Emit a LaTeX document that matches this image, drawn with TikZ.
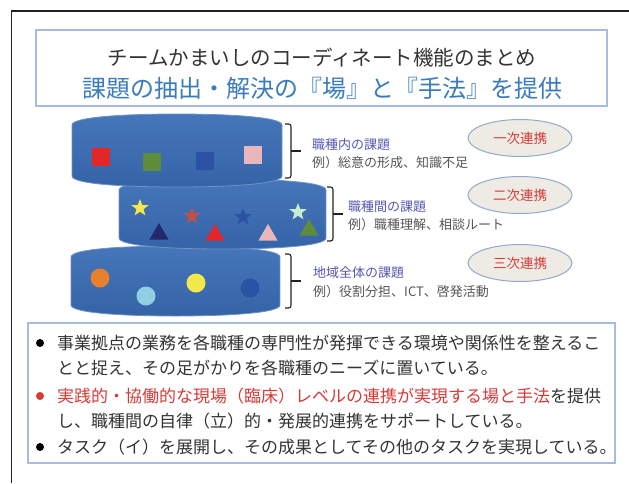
\documentclass[tikz,border=0pt]{standalone}
\usepackage{fontspec}
\setmainfont{Noto Sans CJK JP}
\usepackage{xcolor}
\usepackage{tikz}
\usetikzlibrary{shapes.geometric, positioning}

\definecolor{framegray}{HTML}{222222}
\definecolor{boxblue}{HTML}{A9BBDD}
\definecolor{titlegray}{HTML}{333333}
\definecolor{titleblue}{HTML}{3A7BBE}
\definecolor{disktop}{HTML}{4676BA}
\definecolor{diskbot}{HTML}{3563A8}
\definecolor{diskedge}{HTML}{6F93C6}
\definecolor{issueblue}{HTML}{5656B0}
\definecolor{notegray}{HTML}{555555}
\definecolor{ovalfill}{HTML}{EEEBE4}
\definecolor{ovalline}{HTML}{93A9C9}
\definecolor{linkred}{HTML}{D83A36}
\definecolor{c1}{HTML}{E3262A}
\definecolor{c2}{HTML}{5D8C3B}
\definecolor{c3}{HTML}{2C52A6}
\definecolor{c4}{HTML}{E9B6BA}
\definecolor{c5}{HTML}{F3E84A}
\definecolor{c6}{HTML}{C0504D}
\definecolor{c7}{HTML}{C9ECD3}
\definecolor{c8}{HTML}{26286E}
\definecolor{c9}{HTML}{E88030}
\definecolor{c10}{HTML}{8FD0E2}

\begin{document}
\begin{tikzpicture}[x=1pt, y=-1pt, every node/.style={inner sep=0pt},
		boxline/.style={draw=boxblue, line width=1.3pt},
		sq/.style={rectangle, minimum size=18},
		st/.style={star, star points=5, star point ratio=2.4, minimum size=18},
		tri/.style={regular polygon, regular polygon sides=3, minimum size=22},
		dot/.style={circle, minimum size=19},
		issue/.style={anchor=west, text=issueblue, font=\fontsize{13}{15}\selectfont},
		note/.style={anchor=west, text=notegray, font=\fontsize{13}{15}\selectfont},
		link/.style={ellipse, fill=ovalfill, draw=ovalline, line width=1pt, minimum width=104, minimum height=37, text=linkred, font=\fontsize{13.5}{15}\selectfont},
		bracket/.style={draw=framegray, line width=1.1pt, rounded corners=2.5pt},
		body/.style={anchor=west, text=titlegray, font=\fontsize{17}{20}\selectfont}]
			
			\useasboundingbox (0,0) rectangle (629,483);
			
			% page frame
			\draw[framegray, line width=1.2pt] (11.5,483) -- (11.5,11) -- (629,11);
			
			% title
			\draw[boxline] (36,30) rectangle (607,106);
			\node[text=titlegray, font=\fontsize{20.5}{24}\selectfont] (title) at (322,58) {チームかまいしのコーディネート機能のまとめ};
			\node[text=titleblue, font=\fontsize{24}{28}\selectfont] (subtitle) at (322,88) {課題の抽出・解決の『場』と『手法』を提供};
			
			% disks: x1 y1 x2 y2
			\def\disk#1#2#3#4{
				\shade[top color=disktop, bottom color=diskbot, draw=diskedge, line width=0.8pt]
				(#1,#2+11) .. controls (#1,#2+3) and ({#1+0.25*(#3-#1)},#2) .. ({(#1+#3)/2},#2)
				.. controls ({#3-0.25*(#3-#1)},#2) and (#3,#2+3) .. (#3,#2+11)
				-- (#3,#4-11) .. controls (#3,#4-3) and ({#3-0.25*(#3-#1)},#4) .. ({(#1+#3)/2},#4)
				.. controls ({#1+0.25*(#3-#1)},#4) and (#1,#4-3) .. (#1,#4-11) -- cycle;
			}
			
			\disk{71}{246}{280}{316}
			\disk{119}{179}{326}{249}
			\disk{72}{114}{282}{187}
			
			\foreach \x/\y/\c [count=\i] in {101/157/c1, 152/162/c2, 205/161/c3, 253/155/c4}
			\node[sq, fill=\c] (sq\i) at (\x,\y) {};
			
			\foreach \x/\y/\c [count=\i] in {140/208/c5, 192/216/c6, 243/217/c3, 298/212/c7}
			\node[st, fill=\c] (st\i) at (\x,\y) {};
			
			\foreach \x/\y/\c [count=\i] in {159/234/c8, 215/235/c1, 268/235/c4, 309/230/c2}
			\node[tri, fill=\c] (tri\i) at (\x,\y) {};
			
			\foreach \x/\y/\c [count=\i] in {100/278/c9, 146/296/c10, 196/283/c5, 250/288/c3}
			\node[dot, fill=\c] (dot\i) at (\x,\y) {};
			
			% brackets and issues
			\coordinate (b1t) at (285,124);
			\coordinate (b1b) at (285,178);
			\coordinate (b1m) at (291,151);
			\coordinate (b2t) at (327,187);
			\coordinate (b2b) at (327,241);
			\coordinate (b2m) at (333,214);
			\coordinate (b3t) at (285,254);
			\coordinate (b3b) at (285,308);
			\coordinate (b3m) at (291,281);
			\foreach \b in {b1, b2, b3} {
				\draw[bracket] (\b t) -| (\b m) |- (\b b);
				\draw[bracket] (\b m) -- ++(10,0);
			}
			
			\node[issue] (is1) at (312,145) {職種内の課題};
			\node[note] (ex1) at (312,163) {例）総意の形成、知識不足};
			\node[issue] (is2) at (348,207) {職種間の課題};
			\node[note] (ex2) at (348,225) {例）職種理解、相談ルート};
			\node[issue] (is3) at (313,273) {地域全体の課題};
			\node[note] (ex3) at (313,292) {例）役割分担、ICT、啓発活動};
			
			\node[link] (l1) at (520,138) {一次連携};
			\node[link] (l2) at (520,195) {二次連携};
			\node[link] (l3) at (520,263) {三次連携};
			
			% summary
			\draw[boxline] (28,323) rectangle (615,463);
			\fill[black] (40,343) circle (4);
			\fill[linkred] (40,396) circle (4);
			\fill[black] (40,447) circle (4);
			\node[body] (t1) at (57,343) {事業拠点の業務を各職種の専門性が発揮できる環境や関係性を整えるこ};
			\node[body] (t2) at (57,368) {とと捉え、その足がかりを各職種のニーズに置いている。};
			\node[body] (t3) at (57,396) {\textcolor{linkred}{実践的・協働的な現場（臨床）レベルの連携が実現する場と手法}を提供};
			\node[body] (t4) at (57,421) {し、職種間の自律（立）的・発展的連携をサポートしている。};
			\node[body] (t5) at (57,447) {タスク（イ）を展開し、その成果としてその他のタスクを実現している。};
			\end{tikzpicture}
\end{document}
